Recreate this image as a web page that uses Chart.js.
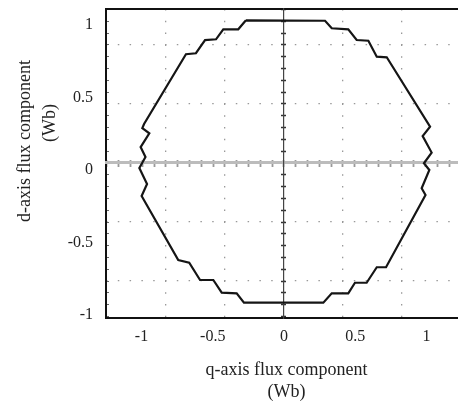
<!DOCTYPE html>
<html>
<head>
<meta charset="utf-8">
<script src="https://cdn.jsdelivr.net/npm/chart.js@4.4.1/dist/chart.umd.min.js"></script>
<style>
  html, body { margin: 0; padding: 0; background: #fff; }
  #wrap { width: 458px; height: 405px; }
</style>
</head>
<body>
<div id="wrap"><canvas id="fluxChart"></canvas></div>
<script>
// flux trajectory (q, d), closed loop
const qFlux = [-0.267, 0.288, 0.335, 0.451, 0.510, 0.592, 0.651, 0.721, 1.025, 0.973, 1.036, 0.982, 1.020, 0.966, 0.993,
  0.716, 0.651, 0.580, 0.498, 0.451, 0.335, 0.276, -0.281, -0.332, -0.437, -0.496, -0.589, -0.665, -0.742,
  -0.999, -0.961, -1.015, -0.972, -1.006, -0.945, -0.994, -0.982, -0.688, -0.618, -0.554, -0.477, -0.426, -0.321, -0.267];
const dFlux = [0.984, 0.981, 0.929, 0.922, 0.848, 0.843, 0.733, 0.729, 0.250, 0.186, 0.072, -0.002, -0.048, -0.174, -0.221,
  -0.719, -0.719, -0.826, -0.826, -0.899, -0.899, -0.963, -0.963, -0.899, -0.894, -0.807, -0.807, -0.688, -0.669,
  -0.228, -0.145, -0.034, 0.041, 0.110, 0.205, 0.241, 0.269, 0.750, 0.757, 0.848, 0.853, 0.922, 0.922, 0.984];

const xTicks = [-1, -0.5, 0, 0.5, 1];
const yTicks = [-1, -0.5, 0, 0.5, 1];
// dotted grid does not sit on the labelled ticks in the original
const xGrid = [-0.828, -0.414, 0, 0.414, 0.828];
const yGrid = [-0.814, -0.407, 0, 0.407, 0.814];
const xRange = [-1.249, 1.221];
const yRange = [-1.069, 1.062];
const xMinorStep = 0.0828;
const yMinorStep = 0.0814;

const serif = '"Liberation Serif", "Times New Roman", serif';
const ink = "#222";

// leading blanks nudge the centred titles (original is not centred on the axis)
const pad = (n, s) => " ".repeat(n) + s;

const setTicks = (vals) => (scale) => { scale.ticks = vals.map((v) => ({ value: v })); };
const noPad = (scale) => {
  scale.paddingTop = 0; scale.paddingBottom = 0; scale.paddingLeft = 0; scale.paddingRight = 0;
};

// axis with no labels, only used for lines / tick marks
function bareAxis(axis, position, extra) {
  const range = axis === "x" ? xRange : yRange;
  return Object.assign({
    type: "linear",
    axis,
    position,
    min: range[0],
    max: range[1],
    ticks: { display: false },
    grid: { drawOnChartArea: false, drawTicks: false },
    border: { display: false },
    afterFit: noPad,
  }, extra);
}

const ctx = document.getElementById("fluxChart").getContext("2d");

new Chart(ctx, {
  type: "scatter",
  data: {
    datasets: [{
      data: qFlux.map((q, i) => ({ x: q, y: dFlux[i] })),
      showLine: true,
      borderColor: "#151515",
      borderWidth: 2.2,
      pointRadius: 0,
      tension: 0,
      fill: false,
    }],
  },
  options: {
    responsive: true,
    maintainAspectRatio: false,
    animation: false,
    layout: { padding: { top: 9, left: 0, right: 0, bottom: 0 } },
    plugins: { legend: { display: false }, tooltip: { enabled: false } },
    scales: {
      x: {
        type: "linear",
        position: "bottom",
        min: xRange[0],
        max: xRange[1],
        afterBuildTicks: setTicks(xTicks),
        ticks: { font: { family: serif, size: 16 }, color: ink, padding: 9, callback: (v) => String(v) },
        grid: { drawOnChartArea: false, drawTicks: false },
        border: { color: "#111", width: 2 },
        title: {
          display: true,
          text: [pad(2, "q-axis flux component"), pad(2, "(Wb)")],
          font: { family: serif, size: 18, lineHeight: 1.222 },
          color: ink,
          padding: { top: 0, bottom: 2 },
        },
        afterFit: (s) => { s.height = 87; noPad(s); },
      },
      y: {
        type: "linear",
        position: "left",
        min: yRange[0],
        max: yRange[1],
        afterBuildTicks: setTicks(yTicks),
        ticks: { font: { family: serif, size: 16 }, color: ink, padding: 13, labelOffset: 7, callback: (v) => String(v) },
        grid: { drawOnChartArea: false, drawTicks: false },
        border: { color: "#111", width: 2 },
        title: {
          display: true,
          text: [pad(10, "d-axis flux component"), pad(18, "(Wb)")],
          font: { family: serif, size: 18, lineHeight: 1.389 },
          color: ink,
          padding: { top: 12.5, bottom: 0 },
        },
        afterFit: (s) => { s.width = 106; noPad(s); },
      },
      xTop: bareAxis("x", "top", {
        border: { display: true, color: "#111", width: 2 },
        afterFit: (s) => { s.height = 0; noPad(s); },
      }),
      // dotted grid
      xg: bareAxis("x", { y: 0 }, {
        afterBuildTicks: setTicks(xGrid),
        grid: { drawOnChartArea: true, drawTicks: false, color: "#999", lineWidth: 1.3 },
        border: { display: false, dash: [1.5, 10.3], dashOffset: 0 },
      }),
      yg: bareAxis("y", { x: 0 }, {
        afterBuildTicks: setTicks(yGrid),
        grid: { drawOnChartArea: true, drawTicks: false, color: "#999", lineWidth: 1.3 },
        border: { display: false, dash: [1.5, 10.3], dashOffset: 0 },
      }),
      // horizontal zero line, grey, with small marks
      xz: bareAxis("x", { y: 0 }, {
        border: { display: true, color: "#bcbcbc", width: 3 },
      }),
      xzt: bareAxis("x", { y: 0.024 }, {
        ticks: { display: false, stepSize: xMinorStep, includeBounds: false },
        grid: { drawOnChartArea: false, drawTicks: true, tickLength: 7, tickColor: "#999", tickWidth: 1.8 },
      }),
      // vertical zero line, dark, with small marks
      yz: bareAxis("y", { x: 0 }, {
        border: { display: true, color: "#444", width: 1.2 },
      }),
      yzt: bareAxis("y", { x: 0.0175 }, {
        ticks: { display: false, stepSize: yMinorStep, includeBounds: false },
        grid: { drawOnChartArea: false, drawTicks: true, tickLength: 5, tickColor: "#333", tickWidth: 1.5 },
      }),
      // minor marks inside the left frame
      ym: bareAxis("y", { x: xRange[0] + 0.021 }, {
        ticks: { display: false, stepSize: yMinorStep, includeBounds: false },
        grid: { drawOnChartArea: false, drawTicks: true, tickLength: 3, tickColor: "#666", tickWidth: 1 },
      }),
    },
  },
});
</script>
</body>
</html>
